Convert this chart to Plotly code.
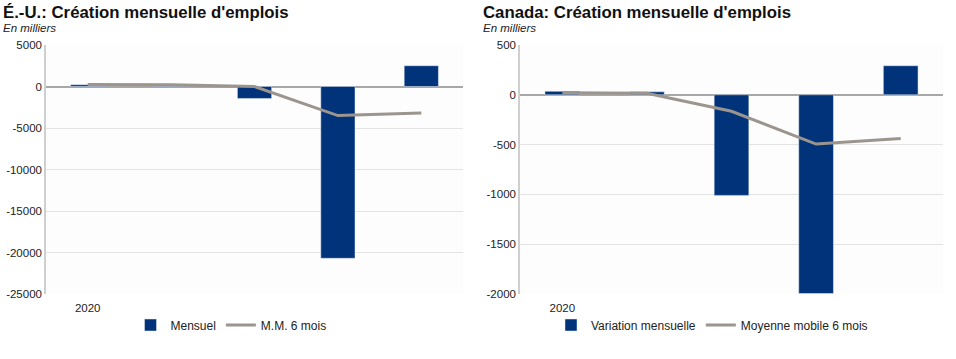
import plotly.graph_objects as go

# Data (thousands)
months = [0, 1, 2, 3, 4]
x_tick_labels = ["2020", "", "", "", ""]

us_monthly = [215, 250, -1440, -20700, 2500]
us_ma6 = [240, 200, 0, -3500, -3200]

ca_monthly = [35, 30, -1010, -1995, 292]
ca_ma6 = [20, 15, -165, -495, -440]

us_yticks = [5000, 0, -5000, -10000, -15000, -20000, -25000]
us_yticklabels = ["5000", "0", "-5000", "-10000", "-15000", "-20000", "-25000"]
ca_yticks = [500, 0, -500, -1000, -1500, -2000]
ca_yticklabels = ["500", "0", "-500", "-1000", "-1500", "-2000"]

BAR = "#00337a"
LINE = "#9b958d"
FONT = "Liberation Sans, Arial, sans-serif"

fig = go.Figure()

fig.add_trace(go.Bar(x=months, y=us_monthly, name="Mensuel", marker_color=BAR,
                     width=0.41, xaxis="x", yaxis="y", legend="legend"))
fig.add_trace(go.Scatter(x=months, y=us_ma6, name="M.M. 6 mois", mode="lines",
                         line=dict(color=LINE, width=3), xaxis="x", yaxis="y", legend="legend"))
fig.add_trace(go.Bar(x=months, y=ca_monthly, name="Variation mensuelle", marker_color=BAR,
                     width=0.41, xaxis="x2", yaxis="y2", legend="legend2"))
fig.add_trace(go.Scatter(x=months, y=ca_ma6, name="Moyenne mobile 6 mois", mode="lines",
                         line=dict(color=LINE, width=3), xaxis="x2", yaxis="y2", legend="legend2"))

xcommon = dict(range=[-0.5, 4.5], tickvals=months, ticktext=x_tick_labels, showgrid=False,
               zeroline=False, showline=False, ticks="", ticklabelstandoff=5,
               tickfont=dict(size=11.5, color="#222"))
ycommon = dict(showgrid=True, gridcolor="#e3e3e3", gridwidth=1, zeroline=True,
               zerolinecolor="#a8a8a8", zerolinewidth=1.5, showline=True, linecolor="#cfcfcf",
               linewidth=1.5, ticks="", tickfont=dict(size=11.5, color="#222"))

fig.update_layout(
    width=956, height=359,
    margin=dict(l=0, r=0, t=45, b=65),
    paper_bgcolor="white", plot_bgcolor="#fdfdfd",
    font=dict(family=FONT, color="#222"),
    xaxis=dict(domain=[46/956, 463/956], anchor="y", **xcommon),
    yaxis=dict(range=[-25000, 5000], tickvals=us_yticks, ticktext=us_yticklabels,
               anchor="x", **ycommon),
    xaxis2=dict(domain=[520/956, 943/956], anchor="y2", **xcommon),
    yaxis2=dict(range=[-2000, 500], tickvals=ca_yticks, ticktext=ca_yticklabels,
                anchor="x2", **ycommon),
    legend=dict(orientation="h", x=231/956, y=-0.1245, xanchor="center", yanchor="middle",
                font=dict(size=12, color="#222"), bgcolor="rgba(0,0,0,0)",
                itemwidth=30, tracegroupgap=0),
    legend2=dict(orientation="h", x=712/956, y=-0.1245, xanchor="center", yanchor="middle",
                 font=dict(size=12, color="#222"), bgcolor="rgba(0,0,0,0)",
                 itemwidth=30, tracegroupgap=0),
    showlegend=True,
    annotations=[
        dict(text="<b>É.-U.: Création mensuelle d'emplois</b>", x=1/956, y=1, xref="paper",
             yref="paper", yshift=44, xanchor="left", yanchor="top", showarrow=False,
             font=dict(size=16.8, color="#111")),
        dict(text="<i>En milliers</i>", x=1/956, y=1, xref="paper", yref="paper", yshift=25,
             xanchor="left", yanchor="top", showarrow=False, font=dict(size=11.5, color="#222")),
        dict(text="<b>Canada: Création mensuelle d'emplois</b>", x=481/956, y=1, xref="paper",
             yref="paper", yshift=44, xanchor="left", yanchor="top", showarrow=False,
             font=dict(size=16.8, color="#111")),
        dict(text="<i>En milliers</i>", x=481/956, y=1, xref="paper", yref="paper", yshift=25,
             xanchor="left", yanchor="top", showarrow=False, font=dict(size=11.5, color="#222")),
    ],
)

fig.write_html("out.html", config={"displayModeBar": False},
               post_script="document.body.style.margin='0px';document.body.style.overflow='hidden';")
